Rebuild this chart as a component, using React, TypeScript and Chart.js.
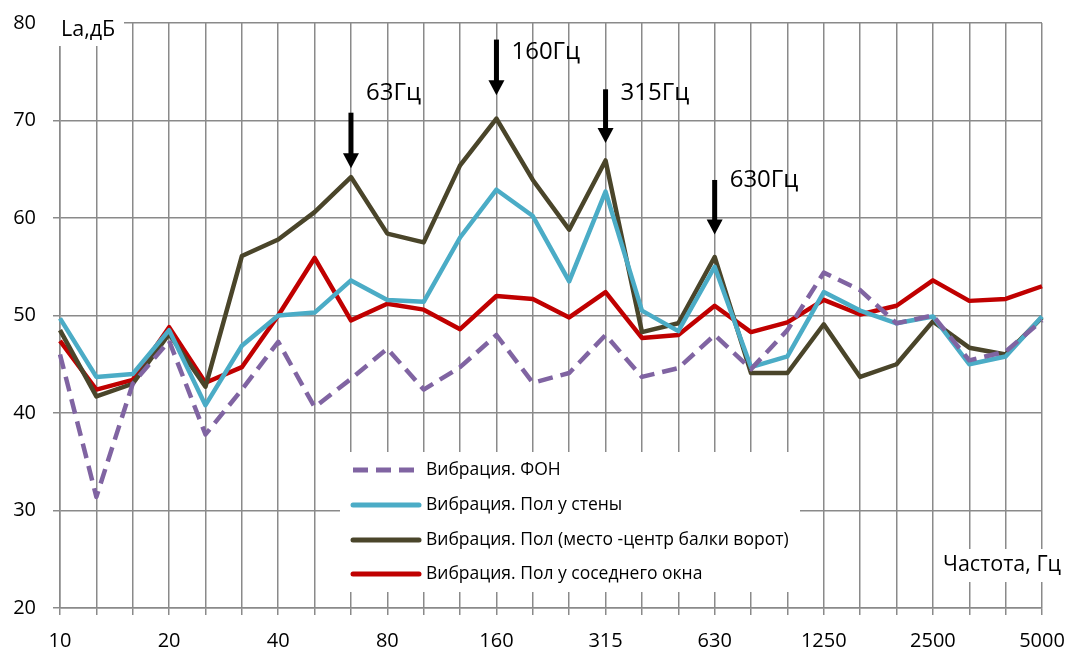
import React, { useEffect, useRef } from "react";
import { Chart, registerables } from "chart.js";

Chart.register(...registerables);

const freqLabels = [
  "10", "12.5", "16", "20", "25", "31.5", "40", "50", "63", "80", "100", "125", "160", "200",
  "250", "315", "400", "500", "630", "800", "1000", "1250", "1600", "2000", "2500", "3150", "4000", "5000",
];
const shownTicks = ["10", "20", "40", "80", "160", "315", "630", "1250", "2500", "5000"];

const fonValues = [
  46.0, 31.4, 43.0, 47.4, 37.8, 42.4, 47.3, 40.6, 43.5, 46.6, 42.4, 44.7, 48.0, 43.1,
  44.1, 48.0, 43.7, 44.6, 48.0, 44.5, 48.5, 54.4, 52.6, 49.2, 50.0, 45.4, 46.3, 49.5,
];
const wallValues = [
  49.7, 43.7, 44.0, 48.5, 40.8, 46.9, 50.0, 50.3, 53.6, 51.6, 51.4, 58.0, 62.9, 60.2,
  53.5, 62.7, 50.5, 48.4, 55.0, 44.7, 45.8, 52.4, 50.5, 49.2, 49.9, 45.0, 45.8, 49.9,
];
const beamValues = [
  48.5, 41.7, 43.0, 48.1, 42.7, 56.1, 57.8, 60.6, 64.2, 58.4, 57.5, 65.4, 70.2, 63.9,
  58.8, 65.9, 48.3, 49.2, 56.0, 44.1, 44.1, 49.1, 43.7, 45.0, 49.4, 46.7, 46.0, 49.8,
];
const windowValues = [
  47.4, 42.4, 43.4, 48.8, 43.1, 44.7, 50.0, 55.9, 49.5, 51.2, 50.6, 48.6, 52.0, 51.7,
  49.8, 52.4, 47.7, 48.0, 51.0, 48.3, 49.3, 51.6, 50.1, 51.0, 53.6, 51.5, 51.7, 53.0,
];

const seriesNames = [
  "Вибрация. ФОН",
  "Вибрация. Пол у стены",
  "Вибрация. Пол (место -центр балки ворот)",
  "Вибрация. Пол у соседнего окна",
];
const seriesColors = ["#8064A2", "#4BACC6", "#4A452A", "#C00000"];

const peakLabels = ["63Гц", "160Гц", "315Гц", "630Гц"];
const peakFreqs = ["63", "160", "315", "630"];
// arrow top value, arrow tip value, text centre value
const peakArrowTop = [70.8, 78.3, 73.2, 63.9];
const peakArrowTip = [65.1, 72.6, 67.7, 58.3];
const peakTextY = [72.8, 77.0, 72.8, 63.9];

const FONT = "'Open Sans', 'DejaVu Sans', sans-serif";
const GRID = "#8a8a8a";

const annotationPlugin = {
  id: "annotations",
  afterDatasetsDraw(chart: any) {
    const ctx = chart.ctx;
    const xs = chart.scales.x;
    const ys = chart.scales.y;
    ctx.save();

    // Y axis title with white background
    ctx.fillStyle = "#fff";
    ctx.fillRect(50, 14, 74, 32);
    ctx.fillStyle = "#000";
    ctx.font = `21.5px ${FONT}`;
    ctx.textAlign = "left";
    ctx.textBaseline = "middle";
    ctx.fillText("La,дБ", 61, 30);

    // X axis title with white background
    ctx.fillStyle = "#fff";
    ctx.fillRect(938, 549, 127, 33);
    ctx.fillStyle = "#000";
    ctx.fillText("Частота, Гц", 943, 565);

    // Arrows and peak labels
    peakFreqs.forEach((f, i) => {
      const idx = freqLabels.indexOf(f);
      const x = xs.getPixelForValue(idx);
      const yTop = ys.getPixelForValue(peakArrowTop[i]);
      const yTip = ys.getPixelForValue(peakArrowTip[i]);
      const headH = 15;
      ctx.fillStyle = "#000";
      ctx.fillRect(x - 2.5, yTop, 5, yTip - headH - yTop + 1);
      ctx.beginPath();
      ctx.moveTo(x - 8, yTip - headH);
      ctx.lineTo(x + 8, yTip - headH);
      ctx.lineTo(x, yTip);
      ctx.closePath();
      ctx.fill();
      ctx.font = `24px ${FONT}`;
      ctx.textAlign = "left";
      ctx.textBaseline = "middle";
      ctx.fillText(peakLabels[i], x + 15, ys.getPixelForValue(peakTextY[i]));
    });

    // Legend
    ctx.fillStyle = "#fff";
    ctx.fillRect(340, 452, 460, 140);
    const rows = [470, 505, 540, 574];
    chart.data.datasets.forEach((ds: any, i: number) => {
      const y = rows[i];
      ctx.strokeStyle = ds.borderColor;
      ctx.lineWidth = 5;
      ctx.lineCap = ds.borderDash && ds.borderDash.length ? "butt" : "round";
      ctx.setLineDash(ds.borderDash || []);
      ctx.beginPath();
      ctx.moveTo(353, y);
      ctx.lineTo(419, y);
      ctx.stroke();
      ctx.setLineDash([]);
      ctx.fillStyle = "#000";
      ctx.font = `17.5px ${FONT}`;
      ctx.textAlign = "left";
      ctx.textBaseline = "middle";
      ctx.fillText(ds.label, 426, y);
    });
    ctx.restore();
  },
};

export default function App() {
  const ref = useRef<HTMLCanvasElement | null>(null);

  useEffect(() => {
    if (!ref.current) return;
    const values = [fonValues, wallValues, beamValues, windowValues];
    const chart = new Chart(ref.current, {
      type: "line",
      data: {
        labels: freqLabels,
        datasets: values.map((v, i) => ({
          label: seriesNames[i],
          data: v,
          borderColor: seriesColors[i],
          backgroundColor: seriesColors[i],
          borderWidth: 4.5,
          borderDash: i === 0 ? [15, 8] : [],
          borderJoinStyle: "round" as const,
          pointRadius: 0,
          tension: 0,
          fill: false,
        })),
      },
      options: {
        responsive: false,
        animation: false,
        devicePixelRatio: 1,
        layout: { padding: { top: 23, right: 23, left: 0, bottom: 0 } },
        plugins: {
          legend: { display: false },
          tooltip: { enabled: false },
        },
        scales: {
          x: {
            type: "category",
            offset: false,
            grid: { color: GRID, lineWidth: 1.5, tickLength: 7, offset: false },
            border: { color: GRID, width: 1.5 },
            ticks: {
              autoSkip: false,
              maxRotation: 0,
              minRotation: 0,
              padding: 14,
              color: "#000",
              font: { family: FONT, size: 20 },
              callback: (_v: any, idx: number) =>
                shownTicks.includes(freqLabels[idx]) ? freqLabels[idx] : "",
            },
            afterFit: (s: any) => {
              s.height = 43;
              s.paddingLeft = 0;
              s.paddingRight = 0;
            },
          },
          y: {
            min: 20,
            max: 80,
            grid: { color: GRID, lineWidth: 1.5, tickLength: 7 },
            border: { color: GRID, width: 1.5 },
            ticks: {
              stepSize: 10,
              padding: 17,
              color: "#000",
              font: { family: FONT, size: 20 },
            },
            afterFit: (s: any) => {
              s.width = 60;
              s.paddingTop = 0;
              s.paddingBottom = 0;
            },
          },
        },
      },
      plugins: [annotationPlugin],
    });
    return () => chart.destroy();
  }, []);

  return (
    <div style={{ position: "fixed", left: 0, top: 0, width: 1065, height: 651, background: "#fff" }}>
      <canvas ref={ref} width={1065} height={651} style={{ display: "block" }} />
    </div>
  );
}
